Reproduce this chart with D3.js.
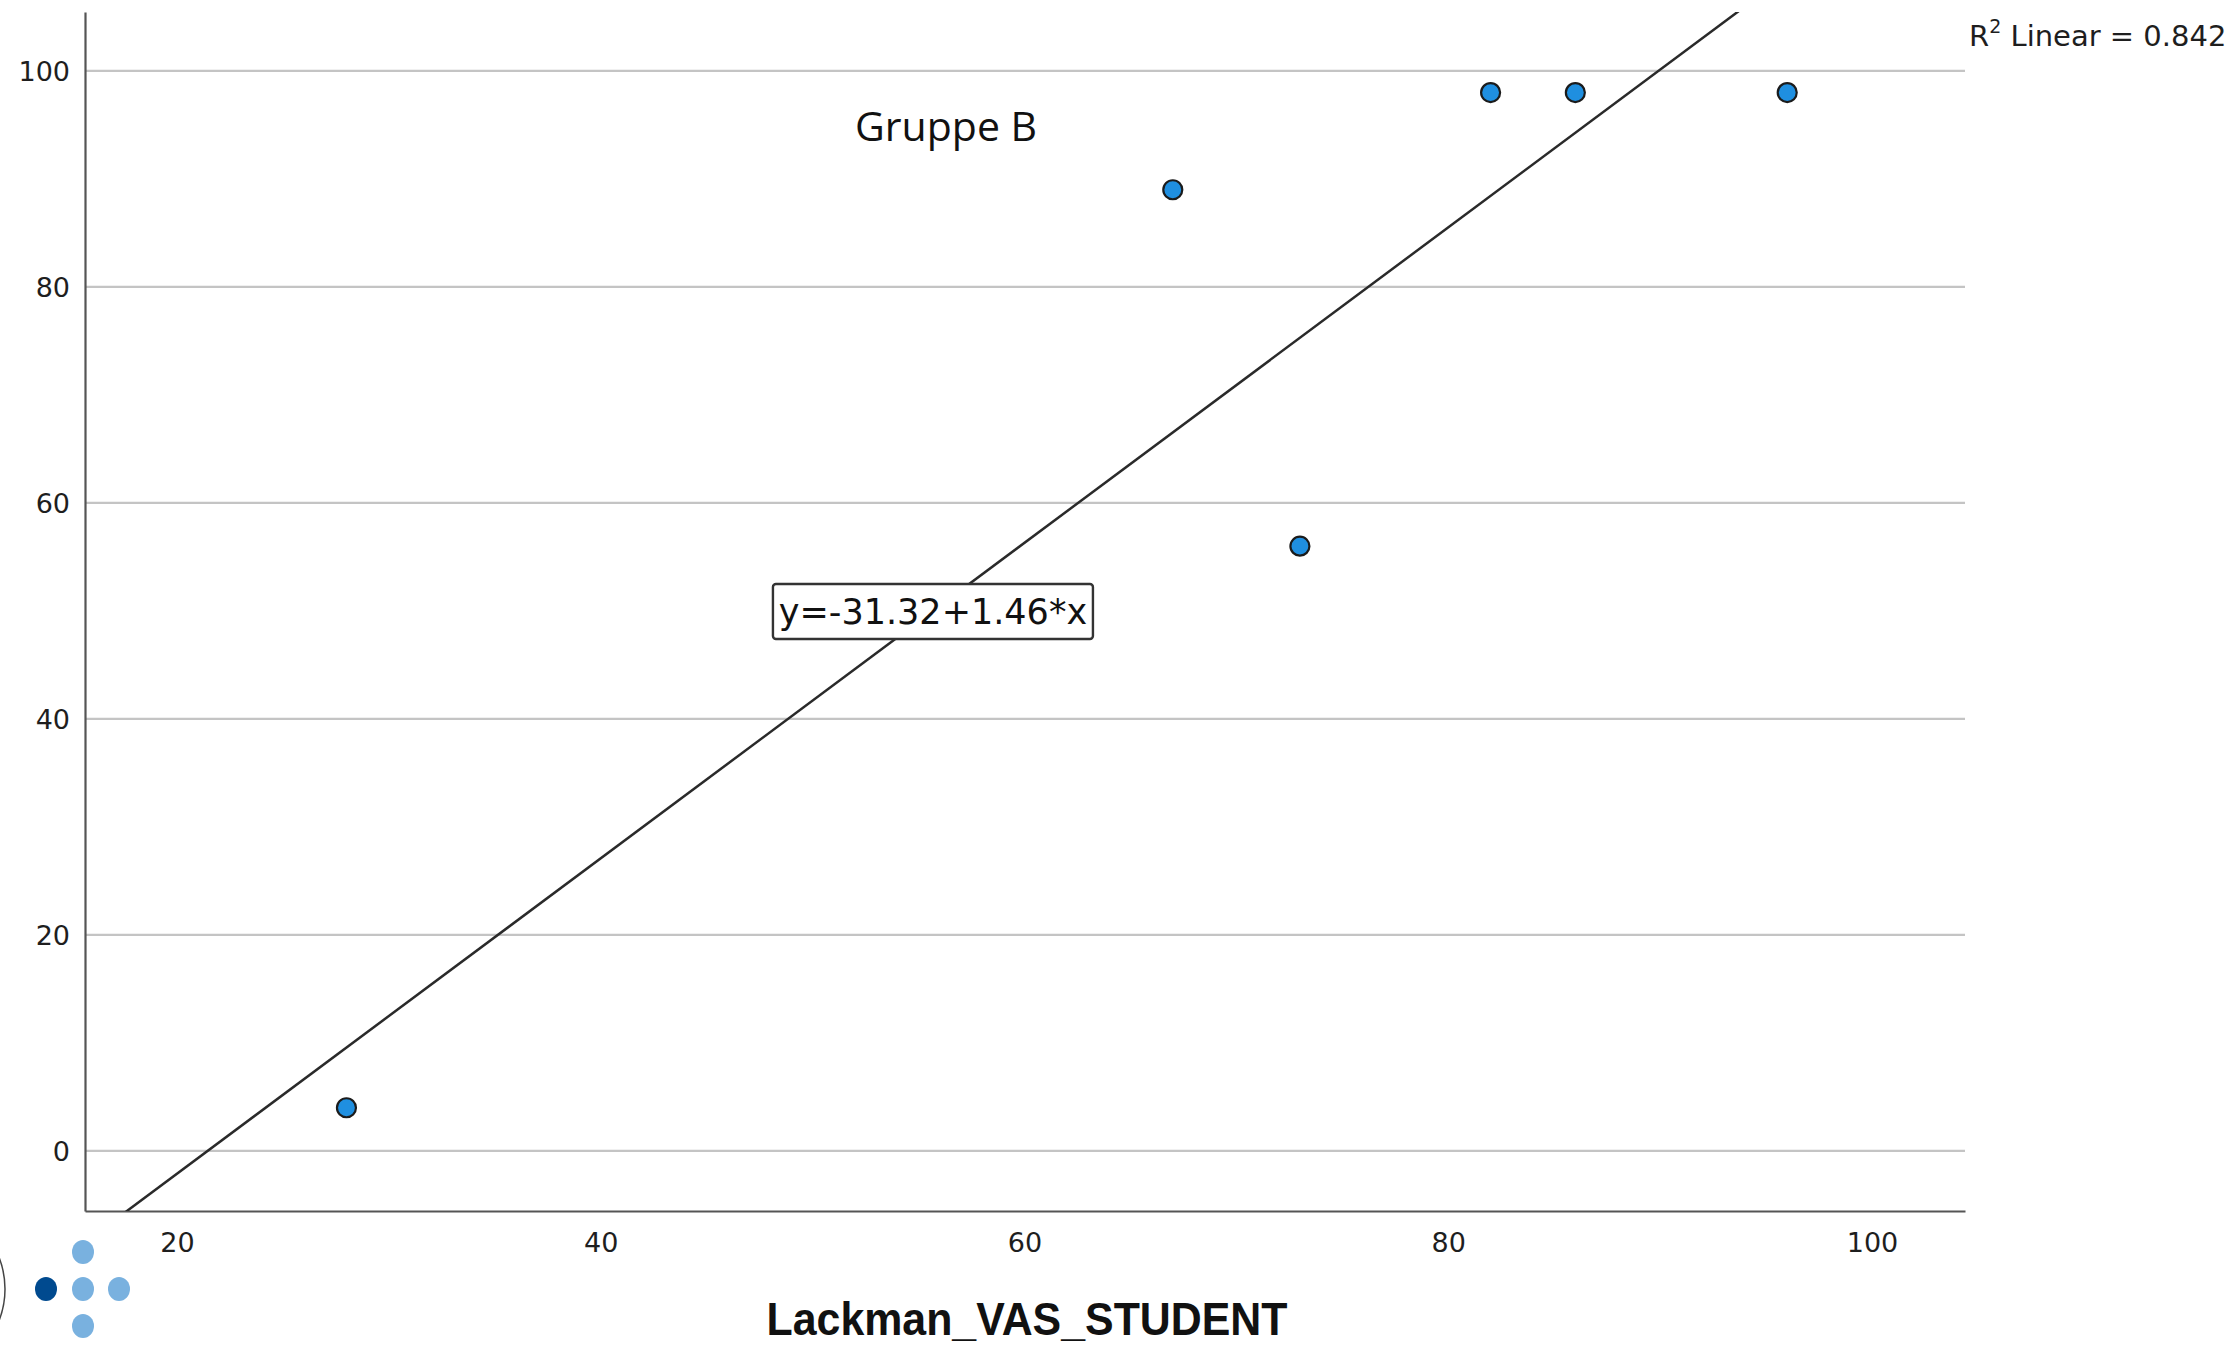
<!DOCTYPE html>
<html>
<head>
<meta charset="utf-8">
<script src="https://cdn.jsdelivr.net/npm/d3@7"></script>
<style>
  body { margin: 0; background: #fff; }
  svg { display: block; }
  .tick text { font-family: "DejaVu Sans", Verdana, sans-serif; font-size: 27px; fill: #1e1e1e; }
</style>
</head>
<body>
<div id="chart"></div>
<script>
// values
var studentVas = [28, 67, 73, 82, 86, 96];
var teacherVas = [4, 89, 56, 98, 98, 98];
var xTicks = [20, 40, 60, 80, 100];
var yTicks = [0, 20, 40, 60, 80, 100];
var xTitle = "Lackman_VAS_STUDENT";
var groupLabel = "Gruppe B";

var width = 2239, height = 1346;

var svg = d3.select("#chart").append("svg")
    .attr("width", width)
    .attr("height", height);

// plot area
var plotLeft = 85, plotRight = 1965, plotTop = 12, plotBottom = 1211;

var xScale = d3.scaleLinear().domain([15.66, 104.39]).range([plotLeft, plotRight]);
var yScale = d3.scaleLinear().domain([-5.56, 105.46]).range([plotBottom, plotTop]);

// gridlines
svg.append("g").selectAll("line").data(yTicks).enter().append("line")
    .attr("x1", plotLeft).attr("x2", plotRight)
    .attr("y1", function (d) { return yScale(d); })
    .attr("y2", function (d) { return yScale(d); })
    .attr("stroke", "#c4c4c4")
    .attr("stroke-width", 2.2);

// axes
var yAxis = d3.axisLeft(yScale).tickValues(yTicks).tickSize(0).tickPadding(15);
var xAxis = d3.axisBottom(xScale).tickValues(xTicks).tickSize(0).tickPadding(22);

var gy = svg.append("g").attr("transform", "translate(" + plotLeft + ",0)").call(yAxis);
var gx = svg.append("g").attr("transform", "translate(0," + plotBottom + ")").call(xAxis);
gy.select(".domain").attr("stroke", "#555").attr("stroke-width", 2.2);
gx.select(".domain").attr("stroke", "#555").attr("stroke-width", 2.2);
gy.selectAll(".tick text").attr("dy", "0.36em");

// least squares fit
var points = studentVas.map(function (x, i) { return { x: x, y: teacherVas[i] }; });
var mx = d3.mean(studentVas), my = d3.mean(teacherVas);
var sxy = d3.sum(points, function (p) { return (p.x - mx) * (p.y - my); });
var sxx = d3.sum(points, function (p) { return (p.x - mx) * (p.x - mx); });
var syy = d3.sum(points, function (p) { return (p.y - my) * (p.y - my); });
var slope = sxy / sxx;
var intercept = my - slope * mx;
var r2 = sxy * sxy / (sxx * syy);

svg.append("clipPath").attr("id", "plotClip").append("rect")
    .attr("x", plotLeft).attr("y", plotTop)
    .attr("width", plotRight - plotLeft).attr("height", plotBottom - plotTop);

var xd = xScale.domain();
var fitLine = xd.map(function (x) { return { x: x, y: intercept + slope * x }; });

svg.append("path")
    .datum(fitLine)
    .attr("clip-path", "url(#plotClip)")
    .attr("d", d3.line().x(function (d) { return xScale(d.x); }).y(function (d) { return yScale(d.y); }))
    .attr("fill", "none")
    .attr("stroke", "#2a2a2a")
    .attr("stroke-width", 2.5);

// equation label box
var eqText = "y=" + intercept.toFixed(2) + "+" + slope.toFixed(2) + "*x";
var eq = svg.append("g").attr("transform", "translate(" + xScale(55.68) + "," + yScale(50) + ")");
eq.append("rect")
    .attr("x", -160).attr("y", -27)
    .attr("width", 320).attr("height", 55)
    .attr("rx", 3)
    .attr("fill", "#fff")
    .attr("stroke", "#333")
    .attr("stroke-width", 2.4);
eq.append("text")
    .attr("text-anchor", "middle")
    .attr("dy", "0.36em")
    .style("font-family", "DejaVu Sans, Verdana, sans-serif")
    .style("font-size", "35px")
    .style("fill", "#111")
    .text(eqText);

// points
svg.append("g").selectAll("circle").data(points).enter().append("circle")
    .attr("cx", function (d) { return xScale(d.x); })
    .attr("cy", function (d) { return yScale(d.y); })
    .attr("r", 9.5)
    .attr("fill", "#1f8fe0")
    .attr("stroke", "#1b1b1b")
    .attr("stroke-width", 2.2);

// group label
svg.append("text")
    .attr("x", xScale(56.3)).attr("y", yScale(94.9))
    .attr("text-anchor", "middle")
    .attr("dy", "0.36em")
    .style("font-family", "Open Sans, sans-serif")
    .style("font-size", "41px")
    .style("fill", "#111")
    .text(groupLabel);

// R squared
var r2Text = svg.append("text")
    .attr("x", 1969).attr("y", 46)
    .style("font-family", "DejaVu Sans, Verdana, sans-serif")
    .style("font-size", "29px")
    .style("fill", "#1e1e1e");
r2Text.append("tspan").text("R");
r2Text.append("tspan").attr("dy", -13).style("font-size", "19px").text("2");
r2Text.append("tspan").attr("dy", 13).text(" Linear = " + r2.toFixed(3));

// x axis title
svg.append("text")
    .attr("x", 1027).attr("y", 1335)
    .attr("text-anchor", "middle")
    .attr("textLength", 521)
    .attr("lengthAdjust", "spacingAndGlyphs")
    .style("font-family", "Liberation Sans, Arial, sans-serif")
    .style("font-weight", "bold")
    .style("font-size", "46px")
    .style("fill", "#111")
    .text(xTitle);

// logo in the corner
var logo = svg.append("g").attr("transform", "translate(83,1289)");
logo.append("circle").attr("cx", -165).attr("cy", 0).attr("r", 87)
    .attr("fill", "none").attr("stroke", "#444").attr("stroke-width", 1.5);
var dots = [[-37, 0, "#004a8f"], [0, -37, "#79b1df"], [0, 0, "#79b1df"], [36, 0, "#79b1df"], [0, 37, "#79b1df"]];
logo.selectAll(".dot").data(dots).enter().append("ellipse")
    .attr("class", "dot")
    .attr("cx", function (d) { return d[0]; })
    .attr("cy", function (d) { return d[1]; })
    .attr("rx", 11).attr("ry", 12)
    .attr("fill", function (d) { return d[2]; });
</script>
</body>
</html>
